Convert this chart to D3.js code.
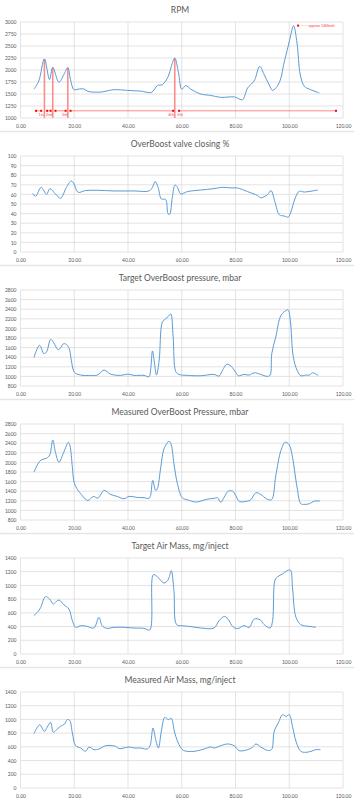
<!DOCTYPE html>
<html>
<head>
<meta charset="utf-8">
<title>OverBoost log</title>
<style>
  body { margin: 0; background: #fff; }
  svg text { font-family: Lato, "Liberation Sans", sans-serif; fill: #595959; }
</style>
</head>
<body>
<div id="chart"></div>
<script src="https://d3js.org/d3.v7.min.js"></script>
<script>
// x ticks shared by all panels
var xTicks = [0, 20, 40, 60, 80, 100, 120];

// RPM
var rpmX = [5, 6.8, 8.9, 10.8, 12.0, 14.3, 16.1, 17.6, 18.6, 19.9, 21.4, 23.6, 25.1, 29.8, 34.8, 39.8, 44.7, 48.8, 50.9, 52.8, 55, 56.1, 57.4, 58.8, 60.0, 61.5, 63.4, 67.1, 70.8, 74.5, 79.5, 80.7, 82.6, 84.5, 86.3, 87.2, 89.0, 90.7, 92.5, 93.8, 95.7, 96.9, 97.9, 99.6, 100.6, 101.6, 102.9, 104.1, 105.6, 107.5, 110.6, 111.2];
var rpmY = [1600, 1770, 2230, 1800, 2055, 1745, 1900, 2050, 1800, 1590, 1600, 1605, 1555, 1540, 1590, 1575, 1560, 1535, 1675, 1695, 1870, 2075, 2250, 1940, 1600, 1675, 1600, 1500, 1470, 1430, 1440, 1415, 1380, 1625, 1730, 1800, 2075, 1900, 1695, 1575, 1675, 1835, 2110, 2495, 2735, 2925, 2560, 1900, 1660, 1600, 1535, 1520];
var rpmTicks = [1000, 1250, 1500, 1750, 2000, 2250, 2500, 2750, 3000];

// gear change markers on the RPM chart
var gearX = [8.9, 12.0, 17.6, 57.4];
var gearPeak = [2230, 2055, 2050, 2250];
var gearSpanFrom = [5.8, 9.9, 13, 18.6, 59];
var gearSpanTo = [7.7, 11.2, 16.8, 56.8, 117.4];
var gearNames = ["1st", "2nd", "3rd", "4th", "5th"];
var gearLabelX = [7.7, 10.7, 16.4, 56.0, 59.4];
var gearLevel = 1150;

// OverBoost valve closing %
var valveX = [4.5, 5.6, 7.7, 9.7, 10.9, 13, 14.9, 17.1, 18.9, 19.9, 21.4, 24.2, 28.6, 34.8, 42.2, 47.8, 49.1, 50.1, 51.2, 52.4, 54, 54.9, 55.5, 56.5, 57.5, 58.4, 59.6, 62.1, 67.1, 72, 75.2, 78.3, 80.7, 84.5, 88.2, 89.4, 91.9, 93.2, 94.7, 96.3, 98.1, 99.6, 100.6, 102.1, 103.7, 105.6, 110.6];
var valveY = [61, 58, 67.4, 60, 66, 60.5, 56, 67.4, 74, 71, 62.2, 64, 64.3, 63.6, 63.6, 63.6, 67.4, 73.5, 67.4, 55.3, 54.6, 39.9, 39.2, 57, 69.8, 67.4, 60.5, 62.9, 64.6, 66, 67.4, 66.7, 66.7, 62.9, 58.8, 56.4, 59.8, 64, 51.9, 38.8, 37.5, 36.4, 41.6, 55.3, 63.2, 62.5, 64.6];
var valveTicks = [0, 10, 20, 30, 40, 50, 60, 70, 80, 90, 100];

// Target OverBoost pressure, mbar
var tgtBoostX = [5, 7.1, 8.7, 9.7, 11.2, 12.4, 13.9, 14.7, 16.1, 17.4, 18.3, 18.9, 20.1, 22.4, 26.1, 28.6, 31.1, 33.5, 37.3, 40, 42.2, 46, 47.8, 48.4, 49.1, 49.7, 50.6, 51.6, 52.8, 54, 55, 55.9, 56.8, 57.8, 59, 62.1, 67.1, 72, 73.9, 74.9, 76.8, 78.3, 80.1, 81, 83.2, 85.1, 87, 89.4, 91.9, 92.9, 93.5, 95, 96.9, 98.8, 99.6, 100.4, 101.5, 102.9, 104.3, 106.2, 107.5, 108.7, 109.9, 110.8];
var tgtBoostY = [1393, 1648, 1476, 1510, 1772, 1697, 1559, 1579, 1683, 1648, 1545, 1338, 1083, 1028, 1021, 1028, 1131, 1048, 1021, 1048, 1021, 1021, 993, 1131, 1531, 1338, 1028, 1338, 2131, 2200, 2248, 2303, 1821, 1097, 1041, 1021, 1014, 1041, 1007, 1097, 1255, 1214, 1083, 1014, 1041, 1028, 1076, 1041, 1000, 1028, 1476, 1821, 2269, 2372, 2386, 2166, 1407, 1131, 1014, 1028, 1028, 1076, 1048, 1021];
var boostTicks = [800, 1000, 1200, 1400, 1600, 1800, 2000, 2200, 2400, 2600, 2800];

// Measured OverBoost Pressure, mbar
var measBoostX = [5, 6.5, 7.7, 9.7, 10.9, 12, 13, 14.3, 16.1, 17.8, 18.4, 19.3, 20.1, 22.4, 25.1, 27.1, 28.8, 31.1, 33.5, 36, 38.5, 40.4, 43.5, 46, 47.8, 48.4, 49.2, 50.3, 50.9, 52.2, 53.4, 55.3, 56.1, 57.1, 58.4, 60.2, 62.1, 65.2, 67.1, 69.6, 72, 73.3, 74.5, 75.8, 77.3, 78.9, 80.1, 81.4, 84.5, 85.7, 87.6, 89.4, 91.5, 93.4, 95, 96.9, 98.5, 100, 101.2, 102.9, 104.3, 105.6, 107.5, 109.3, 111.4];
var measBoostY = [1797, 1970, 2053, 2087, 2156, 2468, 2212, 2004, 2212, 2419, 2350, 1900, 1554, 1347, 1208, 1291, 1257, 1416, 1333, 1291, 1243, 1291, 1270, 1264, 1250, 1312, 1624, 1416, 1450, 1900, 2281, 2440, 2364, 1970, 1554, 1264, 1222, 1174, 1194, 1236, 1250, 1264, 1167, 1277, 1402, 1402, 1312, 1187, 1194, 1222, 1367, 1333, 1243, 1222, 1727, 2246, 2419, 2364, 2108, 1485, 1139, 1125, 1139, 1194, 1194];

// Target Air Mass, mg/inject
var tgtAirX = [5, 7.2, 9.3, 10.8, 12.2, 13, 14.3, 16.1, 18, 19.3, 20.5, 22.4, 24.8, 27.3, 29.2, 30.4, 32, 34.8, 38.5, 42.2, 46, 48.1, 49.4, 50.9, 53.4, 54.7, 55.3, 56.1, 57.1, 58.1, 60.2, 63.4, 67.1, 72, 73.9, 76, 77.6, 78.9, 80.7, 83.2, 85.1, 87, 89.2, 90.7, 92.9, 93.8, 94.7, 95.7, 97.5, 98.8, 100.4, 101.2, 102.5, 104.3, 106.2, 108.1, 109.9];
var tgtAirY = [559, 656, 836, 802, 729, 753, 787, 719, 656, 486, 389, 413, 403, 379, 535, 413, 374, 389, 389, 379, 374, 350, 1157, 1128, 1035, 1069, 1118, 1215, 924, 428, 413, 399, 379, 379, 486, 549, 486, 403, 369, 413, 389, 510, 496, 428, 379, 486, 1079, 1128, 1167, 1206, 1225, 972, 535, 428, 408, 399, 389];
var airTicks = [0, 200, 400, 600, 800, 1000, 1200, 1400];

// Measured Air Mass, mg/inject
var measAirX = [5, 6.5, 7.2, 8.9, 9.9, 11.2, 12.2, 13.4, 14.9, 16.4, 17.4, 18.3, 19.3, 20.5, 22.4, 24.2, 25.5, 27.3, 29.2, 31.7, 35.4, 36.6, 40.4, 42.2, 44.7, 47.2, 48.2, 49.3, 50.3, 51.3, 52.5, 53.7, 55, 56.1, 57.4, 59, 60.6, 64.6, 68.3, 70.8, 72, 74.5, 77, 79.5, 81.4, 84.5, 86.3, 87.6, 89.4, 91.9, 93.4, 94.4, 95.9, 97.5, 98.8, 100, 101.2, 102.5, 104.3, 106.2, 108.1, 109.9, 111.6];
var measAirY = [792, 899, 924, 826, 885, 958, 812, 851, 899, 933, 997, 987, 802, 617, 583, 535, 598, 559, 569, 617, 608, 574, 598, 583, 583, 569, 617, 875, 705, 583, 851, 1031, 997, 1016, 802, 632, 549, 535, 569, 598, 583, 617, 642, 617, 544, 559, 593, 642, 598, 549, 559, 826, 948, 1069, 1045, 1069, 899, 681, 535, 520, 535, 559, 559];

var panels = [
  { title: "RPM", xs: rpmX, ys: rpmY, ticks: rpmTicks },
  { title: "OverBoost valve closing %", xs: valveX, ys: valveY, ticks: valveTicks },
  { title: "Target OverBoost pressure, mbar", xs: tgtBoostX, ys: tgtBoostY, ticks: boostTicks },
  { title: "Measured OverBoost Pressure, mbar", xs: measBoostX, ys: measBoostY, ticks: boostTicks },
  { title: "Target Air Mass, mg/inject", xs: tgtAirX, ys: tgtAirY, ticks: airTicks },
  { title: "Measured Air Mass, mg/inject", xs: measAirX, ys: measAirY, ticks: airTicks }
];

var width = 354, height = 800;
var step = 134;
var plotLeft = 20.5, plotRight = 343, plotTop = 22, plotH = 96;

var svg = d3.select("#chart").append("svg")
  .attr("width", width)
  .attr("height", height);

var x = d3.scaleLinear().domain([0, 120]).range([plotLeft, plotRight]);

panels.forEach(function(p, i) {
  var off = i * step;
  var g = svg.append("g").attr("transform", "translate(0," + off + ")");

  // panel separator
  if (i > 0) {
    g.append("line")
      .attr("x1", 0).attr("x2", width)
      .attr("y1", -2.5).attr("y2", -2.5)
      .attr("stroke", "#e6e6e6").attr("stroke-width", 1.5);
  }

  var y = d3.scaleLinear()
    .domain(d3.extent(p.ticks))
    .range([plotTop + plotH, plotTop]);

  // grid
  g.append("g").selectAll("line.h").data(p.ticks).enter().append("line")
    .attr("x1", plotLeft).attr("x2", plotRight)
    .attr("y1", d => y(d)).attr("y2", d => y(d))
    .attr("stroke", "#d9d9d9").attr("stroke-width", 0.75);
  g.append("g").selectAll("line.v").data(xTicks).enter().append("line")
    .attr("x1", d => x(d)).attr("x2", d => x(d))
    .attr("y1", plotTop).attr("y2", plotTop + plotH)
    .attr("stroke", "#d9d9d9").attr("stroke-width", 0.75);

  // axes as text only (Excel style)
  var yAxis = d3.axisLeft(y).tickValues(p.ticks).tickSize(0).tickPadding(4)
    .tickFormat(d3.format("d"));
  var gy = g.append("g").attr("transform", "translate(" + plotLeft + ",0)").call(yAxis);
  gy.select(".domain").remove();
  gy.selectAll("text").style("font-size", "5px").style("fill", "#595959");

  var xAxis = d3.axisBottom(x).tickValues(xTicks).tickSize(0).tickPadding(6)
    .tickFormat(d => d.toFixed(2));
  var gx = g.append("g").attr("transform", "translate(0," + (plotTop + plotH) + ")").call(xAxis);
  gx.select(".domain").remove();
  gx.selectAll("text").style("font-size", "5px").style("fill", "#595959");

  // title
  g.append("text")
    .attr("x", width / 2 + 3).attr("y", 13)
    .attr("text-anchor", "middle")
    .style("font-size", "8.5px")
    .text(p.title);

  // RPM annotations go under the line
  if (i === 0) {
    var ann = g.append("g");
    gearX.forEach(function(gx0, k) {
      ann.append("line")
        .attr("x1", x(gx0)).attr("x2", x(gx0))
        .attr("y1", y(gearPeak[k])).attr("y2", y(1000))
        .attr("stroke", "#ff8c8c").attr("stroke-width", 1.6);
    });
    gearSpanFrom.forEach(function(a, k) {
      ann.append("line")
        .attr("x1", x(a)).attr("x2", x(gearSpanTo[k]))
        .attr("y1", y(gearLevel)).attr("y2", y(gearLevel))
        .attr("stroke", "#ff6b6b").attr("stroke-width", 0.8);
      [a, gearSpanTo[k]].forEach(function(e) {
        ann.append("rect")
          .attr("x", x(e) - 1).attr("y", y(gearLevel) - 1)
          .attr("width", 2).attr("height", 2)
          .attr("fill", "#ff0000");
      });
    });
    gearNames.forEach(function(n, k) {
      ann.append("text")
        .attr("x", x(gearLabelX[k])).attr("y", y(1040))
        .attr("text-anchor", "middle")
        .style("font-size", "3.8px").style("fill", "#ff3b3b")
        .text(n);
    });
    ann.append("rect")
      .attr("x", x(103.3) - 1).attr("y", y(2925) - 1)
      .attr("width", 2).attr("height", 2).attr("fill", "#ff0000");
    ann.append("text")
      .attr("x", x(104.2)).attr("y", y(2925) + 1.2)
      .style("font-size", "3.8px").style("fill", "#ff3b3b")
      .text("----- approx 140kmh");
  }

  var line = d3.line()
    .x((d, k) => x(p.xs[k]))
    .y(d => y(d))
    .curve(d3.curveCatmullRom.alpha(0.5));

  g.append("path")
    .datum(p.ys)
    .attr("d", line)
    .attr("fill", "none")
    .attr("stroke", "#5b9bd5")
    .attr("stroke-width", 1);
});
</script>
</body>
</html>
